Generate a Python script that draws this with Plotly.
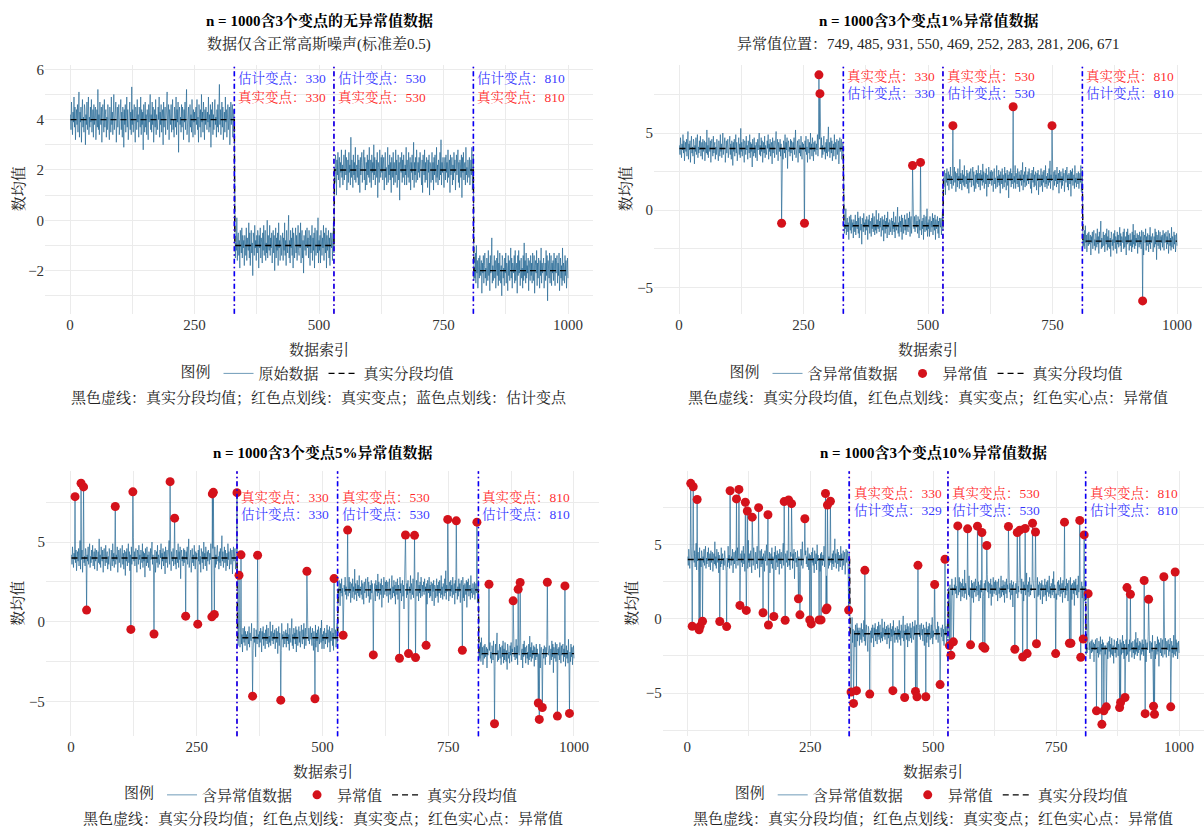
import plotly.graph_objects as go

W, H = 1204, 829
FONT = "'Liberation Serif', 'Noto Serif CJK SC', 'Noto Sans CJK SC', serif"

# ---------------- data ----------------
N = 1000
INDEX = list(range(1, N + 1))
TRUE_CP = [330, 530, 810]
SEG_MEANS = [4.0, -1.0, 2.0, -2.0]
EST_CP = [[330, 530, 810], [330, 530, 810], [330, 530, 810], [329, 530, 810]]

# Gaussian-like noise around the segment means (sd about 0.5), estimated texture
NOISE = [
    0.2, -0.4, 0.7, 0.1, -0.6, 0.3, -0.1, 0.9, -0.3, 0.5, -0.8, 0.0, 0.4, -0.2, 0.6, -0.5, 0.2, 1.1, -0.7, 0.3, -0.1, 0.5, -0.9, 0.2, 0.8,
    -0.3, 0.1, -0.5, 0.6, 0.4, -1.0, 0.2, -0.2, 0.7, -0.4, 0.3, 0.9, -0.6, 0.1, -0.3, 0.5, -0.1, 0.8, -0.5, 0.0, 0.4, -0.7, 0.6, -0.2, 0.3,
    0.5, -0.8, 0.1, 0.4, -0.3, 1.2, -0.4, 0.2, -0.6, 0.7, 0.0, -0.2, 0.5, -0.9, 0.3, 0.6, -0.1, -0.5, 0.8, -0.3, 0.2, 0.4, -0.7, 0.1, -0.4,
    0.6, 0.2, -0.3, -0.8, 0.5, 0.1, -0.5, 0.9, -0.2, 0.3, -0.6, 0.4, 1.0, -0.4, 0.2, -0.1, 0.7, -0.9, 0.3, 0.5, -0.3, 0.0, 0.6, -0.6, 0.2,
    -0.1, 0.8, -0.4, 0.3, -0.7, 0.5, 0.2, -1.1, 0.4, -0.2, 0.6, -0.5, 0.1, 0.9, -0.3, 0.4, -0.8, 0.2, 0.0, 0.7, -0.4, 0.3, -0.6, 1.3, -0.2,
    0.4, -0.5, 0.1, 0.6, -0.2, -0.9, 0.5, 0.3, -0.4, 0.8, -0.1, 0.2, -0.7, 0.5, 0.1, -0.3, 0.9, -0.6, 0.4, -0.2, 0.3, -1.2, 0.6, 0.0, -0.5,
    0.7, -0.3, 0.2, -0.6, 0.4, 0.1, -0.8, 0.6, -0.1, 0.3, 1.0, -0.4, 0.2, -0.5, 0.7, -0.2, 0.5, -0.9, 0.1, 0.4, -0.3, 0.8, -0.6, 0.2, -0.1,
    -0.4, 0.5, 0.0, 0.9, -0.7, 0.3, -0.2, 0.6, -0.5, 0.1, 0.4, -1.0, 0.7, -0.3, 0.2, 0.5, -0.6, 0.3, -0.1, 1.1, -0.4, 0.2, 0.6, -0.8, 0.4,
    0.1, -0.2, 0.6, -0.5, 0.3, 0.8, -0.4, 0.0, -0.7, 0.5, 0.2, -0.3, 0.9, -0.6, 0.4, -0.1, 0.7, -1.3, 0.3, 0.5, -0.2, 0.1, -0.5, 0.6, -0.3,
    0.5, 0.2, -0.8, 0.4, -0.1, 0.7, -0.4, 0.3, 1.2, -0.6, 0.1, -0.2, 0.5, -0.9, 0.3, 0.6, -0.3, 0.2, -0.5, 0.8, 0.0, -0.7, 0.4, -0.1, 0.3,
    -0.6, 0.3, 0.5, -0.2, 0.8, -0.4, 0.1, -0.9, 0.6, 0.2, -0.3, 0.4, -0.7, 1.0, -0.1, 0.3, -0.5, 0.7, 0.1, -0.8, 0.4, -0.2, 0.5, 0.2, -0.4,
    0.3, -0.1, 0.9, -0.5, 0.2, -0.3, 0.6, -1.1, 0.4, 0.0, 0.7, -0.6, 0.2, -0.4, 0.5, 0.8, -0.2, 0.1, -0.7, 0.4, -0.3, 0.6, -0.5, 0.2, 1.4,
    -0.2, 0.4, -0.6, 0.1, 0.7, -0.3, 0.5, -0.8, 0.2, 0.3, -0.5, 0.9, -0.1, 0.4, -0.7, 0.2, 0.6, -0.4, 0.0, 0.5, -1.0, 0.3, 0.7, -0.2, 0.1,
    0.6, -0.7, 0.2, 0.4, -0.3, 0.8, -0.5, 0.1, -0.2, 1.1, -0.6, 0.3, 0.5, -0.4, 0.2, -0.9, 0.6, 0.1, -0.3, 0.7, -0.5, 0.4, -0.1, 0.2, -0.8,
    0.4, 0.1, -0.4, 0.7, -0.6, 0.3, 0.0, -0.2, 0.9, -0.5, 0.5, -0.8, 0.2, 0.6, -0.3, 0.1, -1.2, 0.5, 0.3, -0.4, 0.8, -0.1, 0.2, -0.6, 0.4,
    -0.3, 0.6, 0.2, -0.9, 0.4, -0.1, 0.7, -0.5, 0.3, 0.1, -0.7, 0.5, -0.2, 0.8, -0.4, 0.3, 0.6, -0.6, 0.1, -0.3, 1.0, -0.5, 0.4, 0.0, -0.2,
    0.8, -0.4, 0.3, -0.1, 0.5, -0.7, 0.2, 0.6, -0.3, 0.4, -1.0, 0.1, 0.7, -0.5, 0.3, -0.2, 0.5, -0.8, 0.9, -0.1, 0.2, -0.6, 0.4, 0.3, -0.4,
    0.1, 0.5, -0.6, 0.3, -0.2, 0.9, -0.4, 0.2, -0.8, 0.6, 0.0, -0.3, 0.4, 1.2, -0.5, 0.2, -0.7, 0.6, -0.1, 0.3, -0.4, 0.7, -0.9, 0.5, 0.1,
    -0.5, 0.2, 0.7, -0.3, 0.4, -0.6, 0.1, 0.8, -0.2, -0.4, 0.5, -0.1, 0.9, -0.7, 0.3, 0.6, -0.5, 0.2, -1.1, 0.4, 0.1, -0.2, 0.6, -0.4, 0.3,
    0.7, -0.1, 0.3, -0.5, 0.6, 0.2, -0.8, 0.4, -0.3, 0.1, 0.8, -0.6, 0.3, -0.2, 0.5, -0.9, 0.7, 0.0, -0.4, 0.2, 0.6, -0.3, 1.1, -0.7, 0.2,
    -0.2, 0.4, -0.7, 0.6, 0.1, -0.4, 0.3, -0.1, 0.8, -0.6, 0.5, 0.2, -0.3, 0.7, -0.9, 0.4, -0.2, 0.1, 0.6, -0.5, 0.3, -0.8, 0.5, 0.2, -0.1,
    0.5, -0.6, 0.2, 0.9, -0.3, 0.1, -0.5, 0.6, 0.3, -1.0, 0.4, -0.2, 0.7, -0.4, 0.1, 0.5, -0.7, 0.3, -0.1, 0.8, -0.3, 0.2, -0.6, 0.4, 0.6,
    -0.4, 0.3, 0.8, -0.2, 0.5, -0.8, 0.1, 0.4, -0.5, 0.7, -0.1, 0.2, -0.6, 1.3, -0.3, 0.4, 0.0, -0.7, 0.6, -0.2, 0.3, -0.4, 0.9, -0.5, 0.1,
    0.2, -0.3, 0.6, -0.6, 0.4, 0.1, -0.9, 0.5, -0.2, 0.3, 0.7, -0.5, 0.2, -0.1, 0.8, -0.4, 0.5, -0.8, 0.1, 0.3, -0.6, 0.6, -0.2, 0.4, -0.3,
    0.9, -0.5, 0.1, 0.4, -0.7, 0.6, -0.1, 0.3, -0.4, 1.0, -0.2, 0.5, -0.6, 0.2, 0.4, -0.3, 0.7, -1.1, 0.3, 0.1, -0.5, 0.8, 0.0, -0.3, 0.5,
    -0.1, 0.6, -0.4, 0.2, 0.5, -0.8, 0.3, 0.7, -0.3, 0.1, -0.6, 0.4, 0.9, -0.5, 0.2, -0.2, 0.6, -0.4, 0.3, -0.9, 0.5, 0.1, -0.3, 0.7, -0.6,
    0.3, 0.0, -0.5, 0.8, -0.2, 0.4, -0.7, 0.1, 0.6, -0.4, 0.3, -1.2, 0.5, 0.2, -0.1, 0.7, -0.5, 0.4, -0.3, 0.6, 0.1, -0.6, 0.2, -0.2, 0.9,
    -0.6, 0.4, 0.1, -0.3, 0.7, -0.5, 0.2, 0.5, -0.8, 0.3, -0.1, 0.6, -0.4, 0.2, 1.1, -0.7, 0.3, -0.2, 0.5, -0.5, 0.8, 0.0, -0.4, 0.3, -0.1,
    0.5, -0.3, 0.7, -0.1, 0.2, -0.6, 0.4, -0.9, 0.6, 0.1, -0.2, 0.8, -0.5, 0.3, -0.4, 0.5, 0.2, -0.7, 0.4, -0.1, 0.6, -1.0, 0.3, 0.2, -0.5,
    0.1, 0.7, -0.4, 0.3, -0.8, 0.5, -0.2, 0.6, 0.0, -0.5, 0.9, -0.3, 0.2, -0.6, 0.4, 0.1, -0.4, 0.7, -0.2, 1.2, -0.6, 0.3, -0.1, 0.5, -0.3,
    -0.7, 0.2, 0.5, -0.4, 0.6, -0.1, 0.3, -0.5, 0.8, -0.3, 0.1, 0.4, -0.9, 0.6, -0.2, 0.3, 0.5, -0.6, 0.2, -0.4, 0.7, -0.1, 0.4, -0.8, 0.3,
    0.6, -0.2, 0.1, 0.8, -0.5, 0.3, -0.7, 0.4, 0.2, -0.3, 0.6, -1.1, 0.5, -0.1, 0.7, -0.4, 0.2, 0.3, -0.6, 0.9, -0.2, 0.1, -0.5, 0.4, 0.0,
    -0.3, 0.5, -0.6, 0.2, 0.4, -0.2, 0.9, -0.8, 0.3, 0.6, -0.4, 0.1, -0.3, 0.7, -0.5, 1.0, -0.1, 0.4, -0.7, 0.2, 0.5, -0.3, 0.6, -0.2, 0.3,
    0.4, -0.9, 0.3, -0.1, 0.6, -0.5, 0.2, 0.7, -0.3, 0.1, -0.6, 0.5, 0.2, -0.4, 0.8, -0.2, 0.3, -0.8, 0.6, -0.1, 0.4, 1.3, -0.5, 0.2, -0.4,
    0.2, 0.6, -0.3, 0.4, -0.7, 0.1, 0.5, -0.2, 0.8, -0.6, 0.3, -0.4, 0.7, 0.0, -0.5, 0.2, -1.0, 0.6, 0.4, -0.3, 0.1, -0.6, 0.5, -0.1, 0.7,
    -0.5, 0.3, 0.1, -0.8, 0.6, -0.2, 0.4, -0.4, 0.2, 0.9, -0.3, 0.5, -0.7, 0.3, 0.1, -0.1, 0.6, -0.5, 0.8, -0.4, 0.2, 0.3, -0.9, 0.6, -0.2,
    0.8, -0.1, 0.4, -0.6, 0.3, 0.5, -0.3, 0.1, -0.7, 0.6, -0.4, 1.1, -0.2, 0.4, -0.5, 0.7, -0.3, 0.2, -0.1, 0.5, -0.8, 0.4, 0.1, -0.4, 0.6,
    -0.2, 0.3, -0.5, 0.7, 0.0, -0.4, 0.6, -0.9, 0.2, 0.4, -0.1, 0.8, -0.6, 0.3, -0.3, 0.5, 0.1, -0.7, 0.4, -0.2, 0.9, -0.5, 0.3, -0.1, 0.2,
    0.5, -0.7, 0.2, 0.3, -0.4, 0.8, -0.2, 0.6, -1.2, 0.4, 0.1, -0.3, 0.7, -0.5, 0.2, 0.6, -0.6, 0.3, -0.1, 0.4, -0.4, 0.7, 0.0, -0.6, 0.5,
    -0.1, 0.4, 0.6, -0.5, 0.3, -0.2, 0.7, -0.8, 0.1, 0.5, -0.3, 0.2, -0.6, 0.9, -0.4, 0.3, 0.1, -0.5, 0.6, -0.2, 0.4, -0.7, 0.2, 0.5, -0.3,
]
assert len(NOISE) == N, len(NOISE)

OUT_IDX_1 = []
OUT_VAL_1 = []
OUT_IDX_2 = [206, 252, 281, 283, 469, 485, 550, 671, 749, 931]
OUT_VAL_2 = [-0.84, -0.84, 8.77, 7.55, 2.90, 3.10, 5.48, 6.70, 5.48, -5.87]
OUT_IDX_3 = [8, 20, 25, 31, 88, 119, 123, 165, 197, 206,
             228, 252, 280, 281, 283, 285, 330, 334, 338, 361,
             371, 417, 469, 485, 523, 541, 550, 601, 653, 665,
             671, 683, 685, 706, 749, 766, 778, 807, 831, 842,
             879, 889, 893, 929, 931, 937, 947, 967, 982, 991]
OUT_VAL_3 = [7.85, 8.69, 8.46, 0.73, 7.23, -0.48, 8.15, -0.77, 8.79, 6.50,
             0.35, -0.15, 0.31, 8.02, 8.12, 0.46, 8.10, 2.92, 4.20, -4.67,
             4.17, -4.92, 3.17, -4.83, 2.71, -0.85, 5.75, -2.08, -2.29, 5.44,
             -2.00, 5.42, -2.25, -1.48, 6.42, 6.33, -1.79, 6.25, 2.35, -6.40,
             1.31, 2.04, 2.46, -5.10, -6.13, -5.38, 2.48, -5.92, 2.25, -5.75]
OUT_IDX_4 = [7, 10, 12, 20, 24, 26, 31, 66, 80, 87,
             100, 105, 107, 118, 120, 122, 132, 145, 154, 164,
             165, 176, 197, 199, 206, 212, 226, 229, 239, 249,
             252, 268, 272, 281, 282, 284, 285, 291, 328, 333,
             338, 344, 361, 371, 418, 442, 464, 467, 469, 485,
             503, 514, 524, 533, 536, 541, 550, 570, 576, 590,
             599, 601, 605, 609, 653, 666, 671, 676, 682, 687,
             691, 702, 708, 710, 749, 767, 777, 780, 798, 800,
             805, 807, 815, 832, 843, 847, 852, 879, 881, 890,
             894, 901, 929, 931, 938, 948, 950, 969, 983, 992]
OUT_VAL_4 = [9.14, -0.50, 8.91, 8.05, -0.73, -0.50, -0.16, -0.18, -0.52, 8.64,
             8.09, 8.73, 0.91, 7.86, 0.57, 7.27, 6.86, 7.50, 0.41, 7.02,
             -0.41, 0.16, 7.91, -0.09, 8.02, 7.77, 1.36, 0.27, 6.75, -0.07,
             -0.34, -0.07, -0.07, 8.45, 0.61, 0.73, 7.68, 7.93, 0.59, -4.93,
             -5.70, -4.84, 3.27, -5.07, -4.84, -5.30, -4.89, -5.25, 3.61, -5.25,
             2.32, -4.43, 4.02, -1.80, -2.45, -1.55, 6.27, 6.07, -1.75, 6.25,
             5.82, -1.86, -1.98, 4.95, 6.23, -2.05, 5.82, 5.98, -2.57, 6.09,
             -2.34, 6.45, 5.86, -1.68, -2.34, 6.52, -1.64, -1.64, 6.64, -2.59,
             -1.36, 5.66, 1.70, -6.20, -7.11, -6.20, -5.93, -5.98, -5.64, -5.30,
             2.11, 1.66, 2.59, -6.39, 1.32, -5.89, -6.43, 2.84, -5.93, 3.16]

OUT_IDX = [OUT_IDX_1, OUT_IDX_2, OUT_IDX_3, OUT_IDX_4]
OUT_VAL = [OUT_VAL_1, OUT_VAL_2, OUT_VAL_3, OUT_VAL_4]

TITLES = ["n = 1000含3个变点的无异常值数据", "n = 1000含3个变点1%异常值数据",
          "n = 1000含3个变点5%异常值数据", "n = 1000含3个变点10%异常值数据"]
SUBTITLES = ["数据仅含正常高斯噪声(标准差0.5)",
             "异常值位置：749, 485, 931, 550, 469, 252, 283, 281, 206, 671", "", ""]
CAPTIONS = ["黑色虚线：真实分段均值；红色点划线：真实变点；蓝色点划线：估计变点",
            "黑色虚线：真实分段均值，红色点划线：真实变点；红色实心点：异常值",
            "黑色虚线：真实分段均值；红色点划线：真实变点；红色实心点：异常值",
            "黑色虚线：真实分段均值；红色点划线：真实变点；红色实心点：异常值"]
LINE_NAMES = ["原始数据", "含异常值数据", "含异常值数据", "含异常值数据"]
X_TITLE = "数据索引"
Y_TITLE = "数均值"
LEGEND_TITLE = "图例"
OUT_NAME = "异常值"
MEAN_NAME = "真实分段均值"
TRUE_LABEL = "真实变点："
EST_LABEL = "估计变点："

# ---------------- layout geometry (pixels) ----------------
XR = (-49.95, 1049.95)
PANELS = [
    dict(x0=70.0, x1000=568.0, top=62, bottom=312, yr=(-3.72, 6.18), ydt=2, ymin=1,
         title_y=18, sub_y=41, xt_y=348, yt_x=18, leg_y=372, cap_y=396,
         lab_y=(75, 94), est_first=True),
    dict(x0=679.0, x1000=1177.0, top=62, bottom=312, yr=(-6.71, 9.42), ydt=5, ymin=2.5,
         title_y=18, sub_y=41, xt_y=348, yt_x=625, leg_y=372, cap_y=396,
         lab_y=(73, 90), est_first=False),
    dict(x0=71.0, x1000=574.0, top=470, bottom=736, yr=(-7.19, 9.44), ydt=5, ymin=2.5,
         title_y=451, sub_y=None, xt_y=771, yt_x=18, leg_y=795, cap_y=818,
         lab_y=(496, 513), est_first=False),
    dict(x0=687.3, x1000=1179.1, top=470, bottom=736, yr=(-7.92, 9.95), ydt=5, ymin=2.5,
         title_y=451, sub_y=None, xt_y=771, yt_x=632, leg_y=795, cap_y=818,
         lab_y=(492, 509), est_first=False),
]

LINE_COLOR = "rgba(24,96,142,0.78)"
PT_COLOR = "#d4121b"
GRID = "#ebebeb"
TXT = "#222222"
CP_DASH = "5px,3px,1.5px,3px"


def seg_mean(i):
    return SEG_MEANS[sum(1 for c in TRUE_CP if i > c)]


MEANS = [seg_mean(i) for i in INDEX]
BASE = [m + e for m, e in zip(MEANS, NOISE)]

fig = go.Figure()
layout = dict(
    width=W, height=H, margin=dict(l=0, r=0, t=0, b=0),
    paper_bgcolor="white", plot_bgcolor="white",
    font=dict(family=FONT, color=TXT, size=14),
)
annotations = []
shapes = []


def px2x(px):
    return px / W


def px2y(py):
    return 1 - py / H


for p, P in enumerate(PANELS):
    s = "" if p == 0 else str(p + 1)
    k = (P["x1000"] - P["x0"]) / 1000.0
    left = P["x0"] + k * XR[0]
    right = P["x0"] + k * XR[1]
    cx = (left + right) / 2

    layout["xaxis" + s] = dict(
        domain=[px2x(left), px2x(right)], range=list(XR), anchor="y" + s,
        tickmode="linear", tick0=0, dtick=250, showgrid=True, gridcolor=GRID, gridwidth=1,
        minor=dict(tick0=0, dtick=125, showgrid=True, gridcolor=GRID, gridwidth=0.6),
        zeroline=False, showline=False, ticks="", tickfont=dict(size=15, color="#333333"),
    )
    layout["yaxis" + s] = dict(
        domain=[px2y(P["bottom"]), px2y(P["top"])], range=list(P["yr"]), anchor="x" + s,
        tickmode="linear", tick0=0, dtick=P["ydt"], showgrid=True, gridcolor=GRID, gridwidth=1,
        minor=dict(tick0=0, dtick=P["ymin"], showgrid=True, gridcolor=GRID, gridwidth=0.6),
        zeroline=False, showline=False, ticks="", tickfont=dict(size=15, color="#333333"),
    )

    leg = "legend" if p == 0 else "legend" + str(p + 1)
    layout[leg] = dict(
        x=px2x(cx), y=px2y(P["leg_y"]), xanchor="center", yanchor="middle",
        orientation="h", title=dict(text=LEGEND_TITLE, side="left", font=dict(size=15)),
        font=dict(size=15, family=FONT, color=TXT), bgcolor="rgba(0,0,0,0)",
        itemwidth=30, traceorder="normal",
    )

    data = list(BASE)
    for i, v in zip(OUT_IDX[p], OUT_VAL[p]):
        data[i - 1] = v

    fig.add_trace(go.Scatter(
        x=INDEX, y=data, mode="lines", name=LINE_NAMES[p],
        line=dict(color=LINE_COLOR, width=0.8),
        xaxis="x" + s, yaxis="y" + s, legend=leg, legendrank=1, hoverinfo="skip",
    ))
    fig.add_trace(go.Scatter(
        x=INDEX, y=MEANS, mode="lines", name=MEAN_NAME,
        line=dict(color="black", width=1.4, dash="6px,4px"),
        xaxis="x" + s, yaxis="y" + s, legend=leg, legendrank=3, hoverinfo="skip",
    ))
    if OUT_IDX[p]:
        fig.add_trace(go.Scatter(
            x=OUT_IDX[p], y=OUT_VAL[p], mode="markers", name=OUT_NAME,
            marker=dict(color=PT_COLOR, size=9, line=dict(width=0)),
            xaxis="x" + s, yaxis="y" + s, legend=leg, legendrank=2,
        ))

    # change-point lines (true: red, estimated: blue drawn on top)
    for c in TRUE_CP:
        shapes.append(dict(type="line", xref="x" + s, yref="y" + s + " domain",
                           x0=c, x1=c, y0=0, y1=1, layer="above",
                           line=dict(color="#ff0000", width=0.9, dash=CP_DASH)))
    for c in EST_CP[p]:
        shapes.append(dict(type="line", xref="x" + s, yref="y" + s + " domain",
                           x0=c, x1=c, y0=0, y1=1, layer="above",
                           line=dict(color="#0000ff", width=1.6, dash=CP_DASH)))

    # change-point labels
    for j, c in enumerate(TRUE_CP):
        red_txt = dict(text=TRUE_LABEL + str(c), color="rgba(255,0,0,0.85)")
        blue_txt = dict(text=EST_LABEL + str(EST_CP[p][j]), color="rgba(0,0,255,0.8)")
        order = [blue_txt, red_txt] if P["est_first"] else [red_txt, blue_txt]
        for t, ly in zip(order, P["lab_y"]):
            annotations.append(dict(
                x=c, xref="x" + s, y=px2y(ly), yref="paper", text=t["text"],
                xanchor="left", yanchor="middle", xshift=2, showarrow=False,
                font=dict(size=13.5, color=t["color"], family=FONT),
            ))

    # titles & texts
    annotations.append(dict(x=px2x(cx), y=px2y(P["title_y"]), xref="paper", yref="paper",
                            text="<b>" + TITLES[p] + "</b>", showarrow=False,
                            xanchor="center", yanchor="middle",
                            font=dict(size=15, color="black", family=FONT)))
    if P["sub_y"] is not None and SUBTITLES[p]:
        annotations.append(dict(x=px2x(cx), y=px2y(P["sub_y"]), xref="paper", yref="paper",
                                text=SUBTITLES[p], showarrow=False,
                                xanchor="center", yanchor="middle",
                                font=dict(size=15, color=TXT, family=FONT)))
    annotations.append(dict(x=px2x(cx), y=px2y(P["xt_y"]), xref="paper", yref="paper",
                            text=X_TITLE, showarrow=False, xanchor="center", yanchor="middle",
                            font=dict(size=15, color=TXT, family=FONT)))
    annotations.append(dict(x=px2x(P["yt_x"]), y=px2y((P["top"] + P["bottom"]) / 2),
                            xref="paper", yref="paper", text=Y_TITLE, textangle=-90,
                            showarrow=False, xanchor="center", yanchor="middle",
                            font=dict(size=15, color=TXT, family=FONT)))
    annotations.append(dict(x=px2x(cx), y=px2y(P["cap_y"]), xref="paper", yref="paper",
                            text=CAPTIONS[p], showarrow=False, xanchor="center", yanchor="middle",
                            font=dict(size=15, color=TXT, family=FONT)))

layout["annotations"] = annotations
layout["shapes"] = shapes
layout["showlegend"] = True
fig.update_layout(**layout)
fig.write_html("out.html")
